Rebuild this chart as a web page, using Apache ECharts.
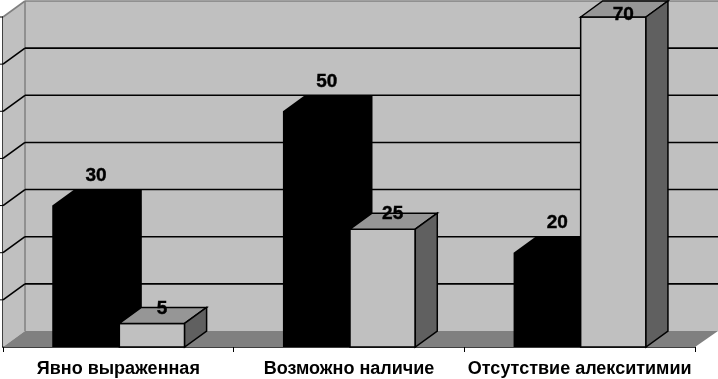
<!DOCTYPE html>
<html><head><meta charset="utf-8">
<style>html,body{margin:0;padding:0;background:#fff}#c{width:718px;height:379px}</style>
<script src="https://cdn.jsdelivr.net/npm/echarts@6/dist/echarts.min.js"></script>
</head><body><div id="c"></div>
<script>
const categories = ['Явно выраженная', 'Возможно наличие', 'Отсутствие алекситимии'];
const blackValues = [30, 50, 20];
const grayValues = [5, 25, 70];
const yTicks = [0, 10, 20, 30, 40, 50, 60, 70];

const DX = 22, DY = 16, BLACK_FRAC = 0.293, GRAY_FRAC = 0.283, RIGHT_EDGE = 718;
const chart = echarts.init(document.getElementById('c'), null, {renderer: 'canvas'});
const poly = (pts, fill, stroke, w) => ({type: 'polygon', shape: {points: pts},
  style: {fill: fill, stroke: stroke || null, lineWidth: w || 0}});
const line = (a, b, stroke, w) => ({type: 'line', shape: {x1: a[0], y1: a[1], x2: b[0], y2: b[1]},
  style: {stroke: stroke, lineWidth: w}});

function renderWall(params, api) {
  const v = api.value(0);
  const p = api.coord([0, v]);
  const x0 = params.coordSys.x;
  const y = p[1];
  const kids = [];
  if (v === 0) {
    const top = api.coord([0, yTicks[yTicks.length - 1]])[1];
    const xr = x0 + params.coordSys.width;
    kids.push(poly([[x0 + DX, top - DY], [RIGHT_EDGE, top - DY], [RIGHT_EDGE, y - DY], [x0 + DX, y - DY]], '#c0c0c0'));
    kids.push(poly([[x0, top], [x0 + DX, top - DY], [x0 + DX, y - DY], [x0, y]], '#c0c0c0'));
    kids.push(poly([[x0, y], [x0 + DX, y - DY], [RIGHT_EDGE, y - DY], [xr, y]], '#808080'));
    kids.push(line([x0 + DX, top - DY], [x0 + DX, y - DY], '#808080', 1.5));
    return {type: 'group', children: kids};
  }
  const last = v === yTicks[yTicks.length - 1];
  const col = last ? '#808080' : '#000';
  kids.push(line([x0 + DX, y - DY], [RIGHT_EDGE, y - DY], col, 1.6));
  kids.push(line([x0, y], [x0 + DX, y - DY], col, 1.6));
  kids.push(line([x0 - 4, y], [x0, y], '#000', 1));
  return {type: 'group', children: kids};
}

function valueText(x, y, val) {
  return {type: 'text', z2: 5, style: {text: String(val), x: x, y: y, align: 'center', verticalAlign: 'middle',
    font: 'bold 19px "Liberation Sans"', fill: '#000', stroke: '#000', lineWidth: 0.4}};
}

function renderBlack(params, api) {
  const cat = api.value(0), val = api.value(1);
  const c = api.coord([cat, val]);
  const bot = api.coord([cat, 0])[1];
  const w = api.size([1, 0])[0] * BLACK_FRAC;
  const xr = c[0] + 1.5, xl = xr - w, t = c[1];
  return {type: 'group', children: [
    poly([[xl, t], [xl + DX, t - DY], [xr + DX, t - DY], [xr + DX, bot - DY], [xr, bot], [xl, bot]], '#000'),
    valueText((xl + xr) / 2 + 10, t - DY - 14, val)
  ]};
}

function renderGray(params, api) {
  const cat = api.value(0), val = api.value(1);
  const c = api.coord([cat, val]);
  const bot = api.coord([cat, 0])[1];
  const w = api.size([1, 0])[0] * GRAY_FRAC;
  const xl = c[0] + 1, xr = xl + w, t = c[1];
  const s = '#000', lw = 1.5;
  return {type: 'group', children: [
    poly([[xl, t], [xr, t], [xr, bot], [xl, bot]], '#c0c0c0', s, lw),
    poly([[xl, t], [xl + DX, t - DY], [xr + DX, t - DY], [xr, t]], '#969696', s, lw),
    poly([[xr, t], [xr + DX, t - DY], [xr + DX, bot - DY], [xr, bot]], '#606060', s, lw),
    valueText((xl + xr) / 2 + 10, Math.max(15, t - DY + 1), val)
  ]};
}

chart.setOption({
  animation: false,
  backgroundColor: '#fff',
  grid: {left: 3, width: 692, top: 17, height: 330, containLabel: false},
  xAxis: {type: 'category', data: categories, boundaryGap: true,
    axisLine: {show: true, lineStyle: {color: '#000', width: 1.5}},
    axisTick: {show: true, alignWithLabel: false, length: 5, lineStyle: {color: '#000', width: 1}},
    axisLabel: {color: '#000', fontFamily: 'Liberation Sans', fontWeight: 'bold', fontSize: 18, margin: 13, interval: 0},
    splitLine: {show: false}},
  yAxis: {type: 'value', min: 0, max: 70, interval: 10,
    axisLine: {show: true, lineStyle: {color: '#000', width: 1.5}},
    axisTick: {show: false}, axisLabel: {show: false}, splitLine: {show: false}},
  series: [
    {type: 'custom', renderItem: renderWall, data: yTicks.map(v => [v]), encode: {x: -1, y: 0}, silent: true, z: 1, clip: false},
    {type: 'custom', renderItem: renderBlack, data: blackValues.map((v, i) => [i, v]), encode: {x: 0, y: 1}, z: 2, clip: false},
    {type: 'custom', renderItem: renderGray, data: grayValues.map((v, i) => [i, v]), encode: {x: 0, y: 1}, z: 3, clip: false}
  ]
});
</script></body></html>
